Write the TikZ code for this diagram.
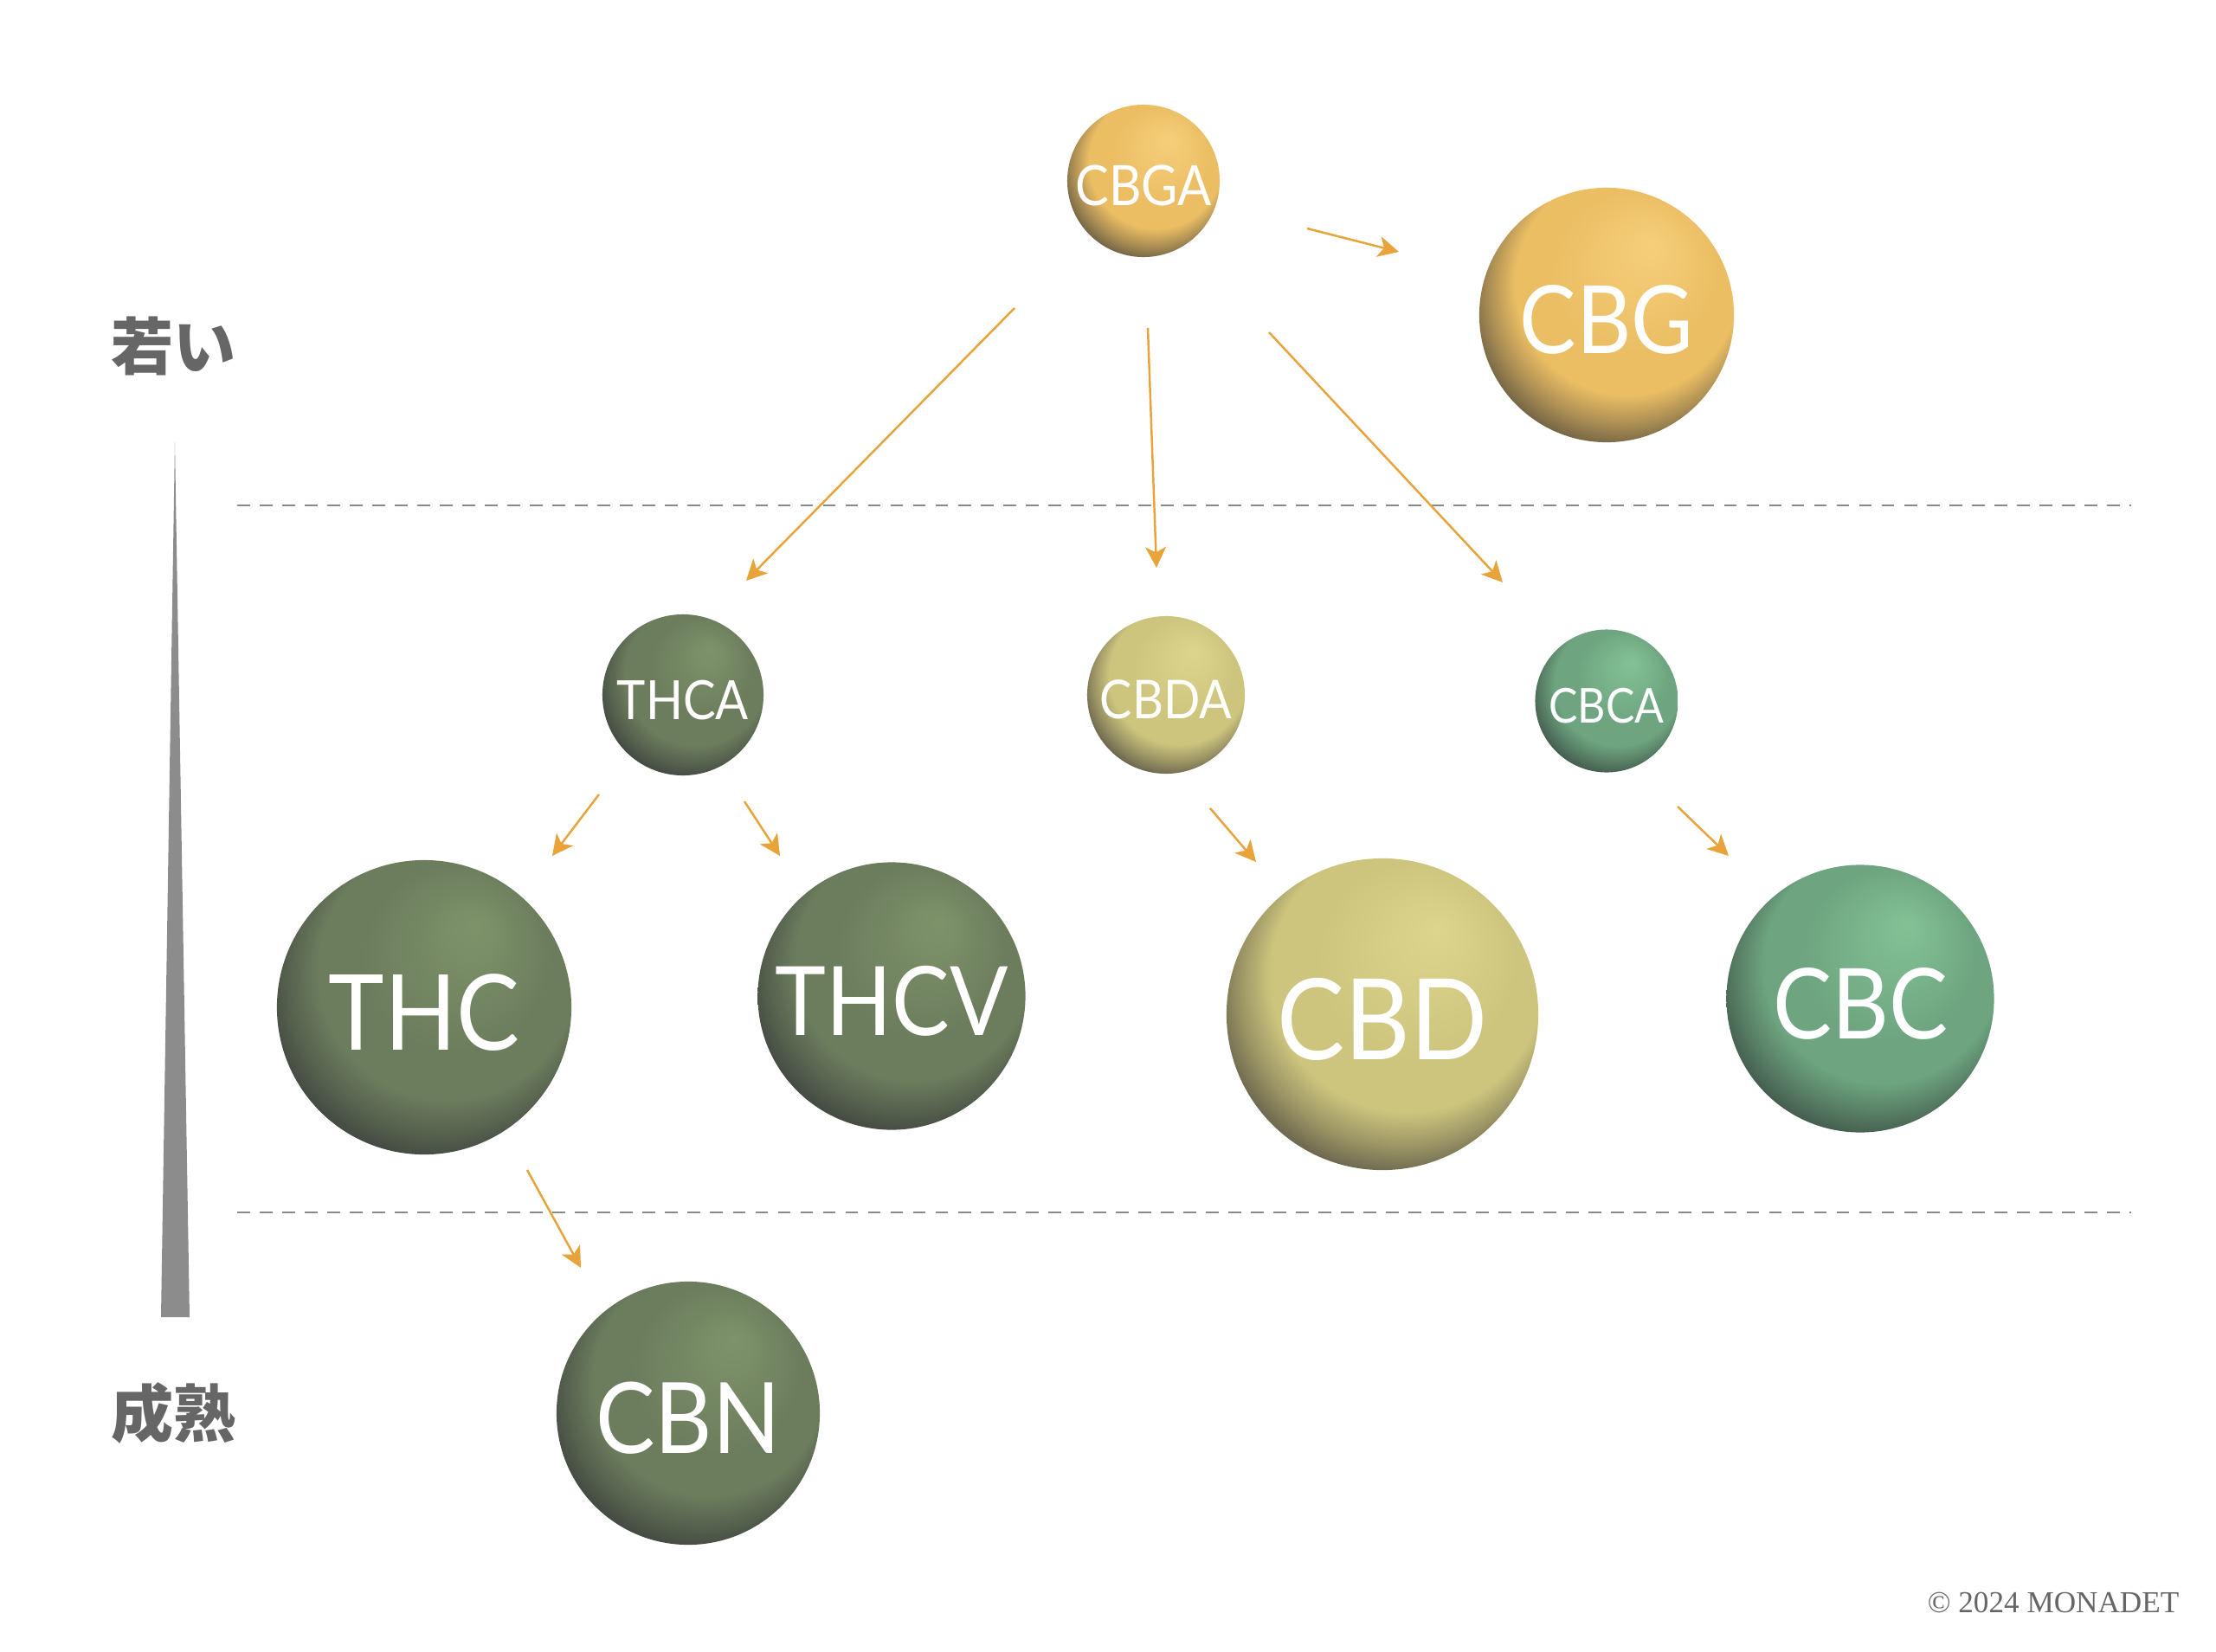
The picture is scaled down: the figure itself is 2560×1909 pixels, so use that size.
\documentclass[tikz,border=0pt]{standalone}
\usepackage{fontspec}
\setmainfont{Lato}[FakeStretch=0.9]
\newfontfamily\jpfont{Noto Sans CJK JP}
\newfontfamily\crfont{Liberation Serif}
\usetikzlibrary{arrows.meta}
\definecolor{arrowc}{HTML}{E8A33A}
\definecolor{dashc}{HTML}{8A8A8A}
\definecolor{labelc}{HTML}{666666}
\definecolor{tric}{HTML}{8C8C8C}
% gold
\definecolor{gA}{HTML}{F6CE7A}\definecolor{gB}{HTML}{EBBE64}\definecolor{gD}{HTML}{736445}
\colorlet{gC}{gB!50!gD}
% dark green
\definecolor{dA}{HTML}{7E936A}\definecolor{dB}{HTML}{6C7D5D}\definecolor{dD}{HTML}{434A42}
\colorlet{dC}{dB!50!dD}
% light yellow
\definecolor{yA}{HTML}{DDD58D}\definecolor{yB}{HTML}{CDC57D}\definecolor{yD}{HTML}{6B664E}
\colorlet{yC}{yB!50!yD}
% light green
\definecolor{lA}{HTML}{84C295}\definecolor{lB}{HTML}{6EA580}\definecolor{lD}{HTML}{445C4E}
\colorlet{lC}{lB!50!lD}
\pgfdeclareradialshading{sphG}{\pgfqpoint{9bp}{14bp}}{color(0bp)=(gA); color(16bp)=(gB); color(22bp)=(gB); color(26bp)=(gC); color(29.5bp)=(gD); color(40bp)=(gD)}
\pgfdeclareradialshading{sphD}{\pgfqpoint{9bp}{14bp}}{color(0bp)=(dA); color(16bp)=(dB); color(22bp)=(dB); color(26bp)=(dC); color(29.5bp)=(dD); color(40bp)=(dD)}
\pgfdeclareradialshading{sphY}{\pgfqpoint{9bp}{14bp}}{color(0bp)=(yA); color(16bp)=(yB); color(22bp)=(yB); color(26bp)=(yC); color(29.5bp)=(yD); color(40bp)=(yD)}
\pgfdeclareradialshading{sphL}{\pgfqpoint{9bp}{14bp}}{color(0bp)=(lA); color(16bp)=(lB); color(22bp)=(lB); color(26bp)=(lC); color(29.5bp)=(lD); color(40bp)=(lD)}
\newcommand\balltext[1]{\raisebox{-1.6pt}[\height][\depth]{#1}}
\tikzset{
  ball/.style={circle, inner sep=0pt, text=white, shading=#1},
  fs/.style={font=\fontsize{#1}{#1}\selectfont},
  flow/.style={draw=arrowc, line width=0.7pt, -{Stealth[length=6.8pt,width=6.8pt,inset=1.8pt]}},
  sep/.style={draw=dashc, line width=0.45pt, dash pattern=on 4.2pt off 3.2pt},
  jplabel/.style={text=labelc, font=\jpfont\bfseries\fontsize{20.5}{22}\selectfont}
}
\begin{document}
\begin{tikzpicture}[x=0.01cm,y=-0.01cm]
\useasboundingbox (0,0) rectangle (2560,1909);
\fill[white] (0,0) rectangle (2560,1909);
% separators
\coordinate (s1a) at (274,584); \coordinate (s1b) at (2462,584);
\coordinate (s2a) at (274,1401); \coordinate (s2b) at (2462,1401);
\draw[sep] (s1a) -- (s1b);
\draw[sep] (s2a) -- (s2b);
% maturity wedge
\coordinate (ta) at (202,511); \coordinate (tb) at (186,1522); \coordinate (tc) at (219,1522);
\fill[tric] (ta) -- (tc) -- (tb) -- cycle;
\node[jplabel] (young) at (201,400) {若い};
\node[jplabel] (mature) at (201,1633) {成熟};
% spheres
\node[ball=sphG, minimum size=1.76cm, fs=18.3] (cbga) at (1321,209) {\balltext{CBGA}};
\node[ball=sphG, minimum size=2.94cm, fs=31] (cbg) at (1856,364) {\balltext{CBG}};
\node[ball=sphD, minimum size=1.86cm, fs=17.8] (thca) at (789,803) {\balltext{THCA}};
\node[ball=sphY, minimum size=1.82cm, fs=17.6] (cbda) at (1347,803) {\balltext{CBDA}};
\node[ball=sphL, minimum size=1.65cm, fs=15.8] (cbca) at (1856,810) {\balltext{CBCA}};
\node[ball=sphD, minimum size=3.40cm, fs=34.5] (thc) at (490,1164) {\balltext{THC}};
\node[ball=sphD, minimum size=3.09cm, fs=31.5] (thcv) at (1030,1151) {\balltext{THCV}};
\node[ball=sphY, minimum size=3.60cm, fs=37] (cbd) at (1597,1172) {\balltext{CBD}};
\node[ball=sphL, minimum size=3.09cm, fs=32.2] (cbc) at (2149,1154) {\balltext{CBC}};
\node[ball=sphD, minimum size=3.04cm, fs=32.4] (cbn) at (795,1633) {\balltext{CBN}};
% arrow ends
\coordinate (a1s) at (1510,264); \coordinate (a1e) at (1616,291);
\coordinate (a2s) at (1172,356); \coordinate (a2e) at (862,671);
\coordinate (a3s) at (1326,379); \coordinate (a3e) at (1336,656);
\coordinate (a4s) at (1466,384); \coordinate (a4e) at (1736,673);
\coordinate (a5s) at (692,918);  \coordinate (a5e) at (638,989);
\coordinate (a6s) at (860,926);  \coordinate (a6e) at (901,989);
\coordinate (a7s) at (1398,934); \coordinate (a7e) at (1451,996);
\coordinate (a8s) at (1938,932); \coordinate (a8e) at (1997,989);
\coordinate (a9s) at (609,1352); \coordinate (a9e) at (671,1465);
\draw[flow] (a1s) -- (a1e);
\draw[flow] (a2s) -- (a2e);
\draw[flow] (a3s) -- (a3e);
\draw[flow] (a4s) -- (a4e);
\draw[flow] (a5s) -- (a5e);
\draw[flow] (a6s) -- (a6e);
\draw[flow] (a7s) -- (a7e);
\draw[flow] (a8s) -- (a8e);
\draw[flow] (a9s) -- (a9e);
% copyright
\node[anchor=base east, inner sep=0pt, text=labelc, font=\crfont\fontsize{10}{11}\selectfont] (copy) at (2518,1863) {© 2024 MONADET};
\end{tikzpicture}
\end{document}
